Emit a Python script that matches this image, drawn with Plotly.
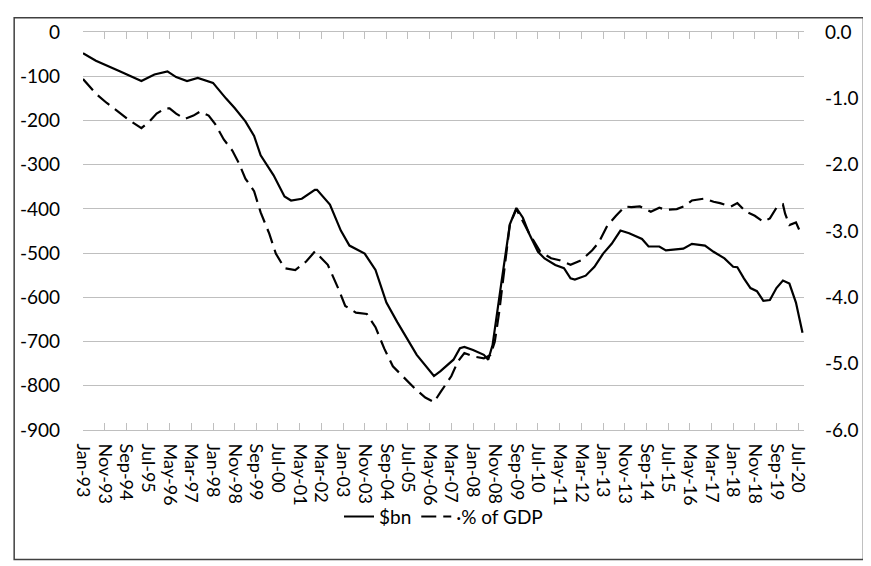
import plotly.graph_objects as go

# $bn series
bn_dates = ['1993-01', '1993-07', '1994-06', '1995-04', '1995-10', '1996-04', '1996-08',
            '1997-01', '1997-06', '1998-01', '1998-07', '1998-11', '1999-04', '1999-08',
            '1999-11', '2000-05', '2000-10', '2001-01', '2001-06', '2001-12', '2002-01',
            '2002-07', '2002-12', '2003-04', '2003-11', '2004-04', '2004-09', '2005-02',
            '2005-11', '2006-07', '2006-10', '2007-03', '2007-04', '2007-07', '2007-09',
            '2008-01', '2008-06', '2008-08', '2008-10', '2009-02', '2009-06', '2009-09',
            '2009-12', '2010-03', '2010-07', '2010-10', '2011-03', '2011-07', '2011-10',
            '2011-12', '2012-05', '2012-09', '2013-01', '2013-05', '2013-09', '2014-01',
            '2014-07', '2014-10', '2015-03', '2015-06', '2016-02', '2016-06', '2016-12',
            '2017-04', '2017-09', '2018-01', '2018-03', '2018-06', '2018-09', '2018-12',
            '2019-03', '2019-06', '2019-09', '2019-12', '2020-03', '2020-06', '2020-09']
bn_values = [-48, -65, -89, -111, -96, -89, -102,
             -111, -104, -115, -150, -172, -202, -235,
             -279, -324, -372, -381, -377, -357, -357,
             -390, -449, -483, -501, -538, -612, -656,
             -730, -778, -767, -745, -741, -715, -712,
             -719, -730, -741, -708, -568, -435, -398,
             -420, -457, -497, -512, -527, -534, -557,
             -560, -551, -531, -501, -479, -449, -455,
             -468, -485, -485, -494, -490, -479, -483,
             -497, -512, -531, -532, -557, -579, -586,
             -608, -606, -579, -562, -569, -612, -680]

# % of GDP series
gdp_dates = ['1993-01', '1993-07', '1993-12', '1994-05', '1994-10', '1995-04', '1995-08',
             '1995-11', '1996-03', '1996-05', '1996-08', '1996-12', '1997-04', '1997-07',
             '1997-11', '1998-02', '1998-06', '1998-10', '1999-01', '1999-04', '1999-08',
             '1999-11', '2000-03', '2000-06', '2000-10', '2001-03', '2001-08', '2001-12',
             '2002-06', '2002-11', '2003-02', '2003-07', '2003-12', '2004-04', '2004-08',
             '2004-12', '2005-05', '2005-10', '2006-03', '2006-07', '2006-10', '2007-03',
             '2007-06', '2007-09', '2008-01', '2008-06', '2008-09', '2008-11', '2009-01',
             '2009-04', '2009-06', '2009-09', '2009-11', '2010-03', '2010-08', '2011-01',
             '2011-05', '2011-10', '2012-03', '2012-08', '2012-11', '2013-03', '2013-07',
             '2013-11', '2014-02', '2014-06', '2014-11', '2015-03', '2015-06', '2015-11',
             '2016-03', '2016-06', '2016-12', '2017-04', '2017-07', '2017-12', '2018-03',
             '2018-07', '2018-11', '2019-03', '2019-06', '2019-09', '2019-12', '2020-01',
             '2020-03', '2020-06', '2020-08']
gdp_values = [-0.71, -0.93, -1.07, -1.20, -1.32, -1.45, -1.34,
              -1.23, -1.15, -1.15, -1.23, -1.31, -1.26, -1.20,
              -1.26, -1.39, -1.62, -1.79, -1.98, -2.21, -2.40,
              -2.72, -3.04, -3.34, -3.56, -3.59, -3.46, -3.31,
              -3.51, -3.88, -4.13, -4.23, -4.25, -4.45, -4.77,
              -5.04, -5.21, -5.37, -5.51, -5.58, -5.43, -5.19,
              -4.97, -4.84, -4.89, -4.92, -4.87, -4.67, -4.23,
              -3.44, -2.90, -2.67, -2.80, -3.04, -3.31, -3.41,
              -3.44, -3.51, -3.44, -3.29, -3.17, -2.92, -2.77,
              -2.63, -2.64, -2.63, -2.71, -2.65, -2.68, -2.67,
              -2.62, -2.54, -2.51, -2.56, -2.58, -2.63, -2.58,
              -2.71, -2.77, -2.86, -2.81, -2.65, -2.60, -2.74,
              -2.91, -2.87, -3.02]

left_ticks = [0, -100, -200, -300, -400, -500, -600, -700, -800, -900]
left_labels = ['0', '-100', '-200', '-300', '-400', '-500', '-600', '-700', '-800', '-900']
right_ticks = [0, -1, -2, -3, -4, -5, -6]
right_labels = ['0.0', '-1.0', '-2.0', '-3.0', '-4.0', '-5.0', '-6.0']

FONT = 'Lato'
x_range = ['1993-01-01', '2020-09-22']

# page body adds an 8px margin, so the figure is 8px smaller than the window
W, H = 863, 558
ML, MR, MT, MB = 71, 64, 16, 136
pw, ph = W - ML - MR, H - MT - MB

fig = go.Figure()

fig.add_trace(go.Scatter(
    x=bn_dates, y=bn_values, name='$bn', mode='lines',
    line=dict(color='black', width=2.2),
))
fig.add_trace(go.Scatter(
    x=gdp_dates, y=gdp_values, name='\u00b7% of GDP', mode='lines',
    line=dict(color='black', width=2.2, dash='15px,7px'),
    yaxis='y2',
))

# outer frame
fig.add_shape(type='rect', xref='paper', yref='paper', layer='below',
              x0=(1.5 - ML) / pw, x1=(W - 4 - ML) / pw,
              y0=-(MB - 4) / ph, y1=(ph + MT - 1.5) / ph,
              line=dict(color='#404040', width=1.5))

fig.update_layout(
    width=W, height=H,
    margin=dict(l=ML, r=MR, t=MT, b=MB),
    paper_bgcolor='white', plot_bgcolor='rgba(0,0,0,0)',
    font=dict(family=FONT, size=19, color='black'),
    showlegend=True,
    legend=dict(orientation='h', x=0.5, xanchor='center', y=-0.17, yanchor='top',
                font=dict(size=19), traceorder='normal', bgcolor='rgba(0,0,0,0)'),
    xaxis=dict(
        type='date', range=x_range,
        tick0='1993-01-01', dtick='M10', tickformat='%b-%y',
        tickangle=90, ticks='inside', ticklen=7, tickcolor='#bfbfbf',
        showline=True, linecolor='#bfbfbf', linewidth=1, mirror='ticks',
        showgrid=False, zeroline=False,
        ticklabelstandoff=9, tickfont=dict(size=18),
    ),
    yaxis=dict(
        range=[-900, 0], tickvals=left_ticks, ticktext=left_labels,
        showgrid=True, gridcolor='#bfbfbf', gridwidth=1, zeroline=False,
        showline=False, ticks='', ticklabelstandoff=22,
    ),
    yaxis2=dict(
        range=[-6, 0], tickvals=right_ticks, ticktext=right_labels,
        overlaying='y', side='right', showgrid=False, zeroline=False,
        showline=False, ticks='', ticklabelstandoff=20,
    ),
)

fig.write_html("out.html")
